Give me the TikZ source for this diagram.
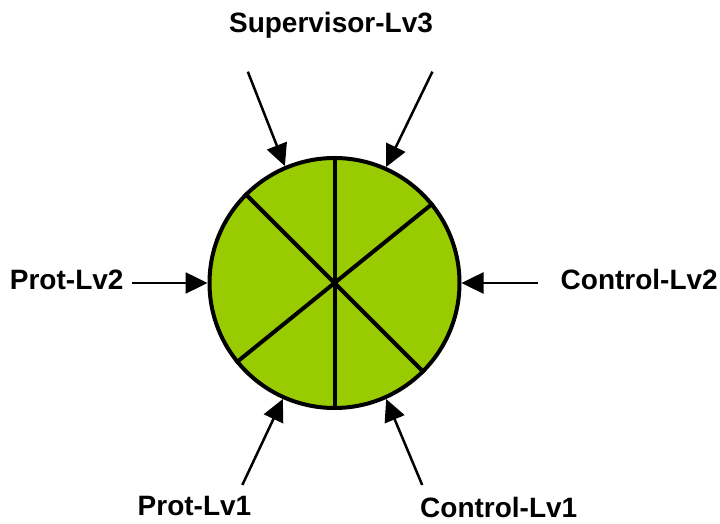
\documentclass[tikz,border=0pt]{standalone}
\usepackage{fontspec}
\setmainfont{Liberation Sans}
\usepackage{tikz}
\usetikzlibrary{arrows.meta, positioning}
\definecolor{hubgreen}{RGB}{153,204,0}
\tikzset{
  disc/.style = {circle, draw, line width=4pt, fill=hubgreen,
                 minimum size=250pt, inner sep=0pt, outer sep=2pt},
  sep/.style  = {line width=4pt},
  lbl/.style  = {font=\fontsize{28}{32}\selectfont\bfseries, inner sep=0pt},
  fl/.style   = {-{Triangle[length=22pt, width=21pt]}, line width=2.5pt},
}

\begin{document}
\begin{tikzpicture}[x=1pt, y=1pt]
  \useasboundingbox (0,0) rectangle (720,524);
  \node[disc] (hub) at (334.5,241) {};
  \draw[sep] (hub.north) -- (hub.south);
  \draw[sep] (hub.135) -- (hub.315);
  \draw[sep] (hub.39.5) -- (hub.219.5);
  % free ends of the inputs
  \coordinate (sv1) at (247.8,452.3);
  \coordinate (sv2) at (432.4,452.3);
  \coordinate (p2)  at (132.4,241);
  \coordinate (c2)  at (537.6,241);
  \coordinate (p1)  at (242.3,39);
  \coordinate (c1)  at (422.2,39);
  \node[lbl, anchor=base]      (sup)  at (331,491.3) {Supervisor-Lv3};
  \node[lbl, anchor=base east] (prot2) at (123.7,234.7) {Prot-Lv2};
  \node[lbl, anchor=base east] (ctrl2) at (718,234.7) {Control-Lv2};
  \node[lbl, anchor=base west] (prot1) at (137.5,8) {Prot-Lv1};
  \node[lbl, anchor=base west] (ctrl1) at (420,6.5) {Control-Lv1};
  \draw[fl] (sv1) -- (hub.113); \draw[fl] (sv2) -- (hub.66);
  \draw[fl] (p2) -- (hub.west); \draw[fl] (c2) -- (hub.east);
  \draw[fl] (p1) -- (hub.246); \draw[fl] (c1) -- (hub.294);
\end{tikzpicture}
\end{document}
